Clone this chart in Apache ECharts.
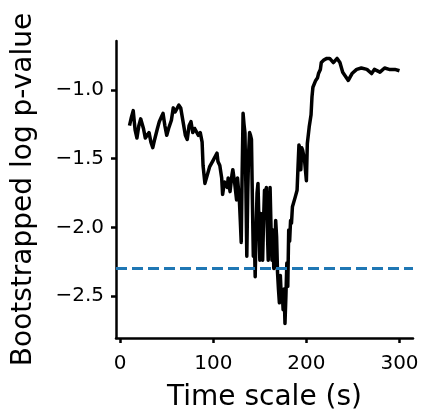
<!DOCTYPE html>
<html>
<head>
<meta charset="utf-8">
<script src="https://cdn.jsdelivr.net/npm/echarts@6/dist/echarts.min.js"></script>
<style>
  html, body { margin: 0; padding: 0; background: #fff; }
  #chart { width: 421px; height: 412px; }
</style>
</head>
<body>
<div id="chart"></div>
<script>
  // time scale (s) and bootstrapped log p-value
  const timeScale = [
    10, 12, 14, 16, 18, 20, 22, 25, 27, 29, 31, 33, 35, 37, 40, 42, 44, 46, 48, 50,
    52, 55, 57, 59, 61, 63, 65, 67, 70, 72, 74, 76, 78, 80, 84, 86, 88, 89, 91, 93,
    96, 100, 104, 105, 107, 109, 110, 112, 115, 116, 118, 120, 121, 123, 125, 126, 128, 129, 130, 131,
    132, 133, 134, 135, 136, 137, 138, 139, 140, 141, 142, 143, 144, 145, 146, 147, 148, 149, 150, 151,
    152, 153, 154, 155, 156, 157, 158, 159, 160, 161, 162, 163, 164, 165, 166, 167, 168, 169, 170, 171,
    172, 173, 174, 175, 176, 177, 178, 179, 180, 181, 182, 183, 184, 185, 188, 190, 191, 192, 193, 194,
    195, 196, 198, 200, 201, 203, 205, 206, 207, 210, 212, 213, 215, 216, 219, 222, 225, 227, 229, 233,
    236, 239, 243, 245, 249, 254, 259, 265, 270, 273, 279, 284, 289, 295, 300
  ];
  const logP = [
    -1.26, -1.20, -1.15, -1.29, -1.35, -1.26, -1.21, -1.28, -1.35, -1.36, -1.31, -1.38, -1.42, -1.36, -1.28, -1.23, -1.20, -1.17, -1.26, -1.33,
    -1.28, -1.22, -1.13, -1.16, -1.15, -1.11, -1.13, -1.12, -1.33, -1.36, -1.26, -1.23, -1.31, -1.28, -1.33, -1.31, -1.38, -1.55, -1.68, -1.68,
    -1.56, -1.51, -1.46, -1.52, -1.55, -1.64, -1.76, -1.67, -1.71, -1.64, -1.74, -1.62, -1.58, -1.68, -1.80, -1.64, -1.80, -1.95, -2.11, -1.60,
    -1.17, -1.25, -1.31, -1.70, -2.21, -1.75, -1.45, -1.31, -1.33, -1.36, -1.80, -2.21, -2.05, -2.36, -2.00, -1.75, -1.68, -1.95, -2.24, -1.90,
    -2.04, -2.24, -1.95, -1.73, -1.90, -1.71, -2.00, -2.24, -1.95, -1.71, -2.00, -2.24, -2.02, -2.30, -2.21, -1.95, -2.07, -2.33, -2.45, -2.55,
    -2.35, -2.50, -2.46, -2.60, -2.45, -2.70, -2.50, -2.26, -2.43, -2.02, -2.10, -1.95, -1.97, -1.85, -1.78, -1.73, -1.56, -1.40, -1.42, -1.58,
    -1.42, -1.44, -1.51, -1.66, -1.39, -1.27, -1.18, -1.05, -0.98, -0.93, -0.91, -0.88, -0.85, -0.80, -0.78, -0.77, -0.77, -0.76, -0.80, -0.77,
    -0.80, -0.87, -0.91, -0.93, -0.88, -0.85, -0.84, -0.85, -0.88, -0.85, -0.87, -0.84, -0.85, -0.85, -0.86
  ];
  const threshold = -2.301;
  const xTicks = [0, 100, 200, 300];
  const yTicks = [-2.5, -2.0, -1.5, -1.0];

  const font = "DejaVu Sans";
  const minus = (s) => String(s).replace("-", "\u2212");

  var seriesData = [];
  for (var i = 0; i < timeScale.length; i++) {
    seriesData.push([timeScale[i], logP[i]]);
  }

  const option = {
    animation: false,
    backgroundColor: "#fff",
    grid: { left: 116, right: 8, top: 41, bottom: 74, outerBoundsMode: "none", containLabel: false },
    xAxis: {
      type: "value",
      min: -4.5,
      max: 314.5,
      name: "Time scale (s)",
      nameLocation: "middle",
      nameGap: 46,
      nameTextStyle: { fontFamily: font, fontSize: 28, color: "#000" },
      splitLine: { show: false },
      axisLine: { show: true, onZero: false, lineStyle: { color: "#000", width: 2.5 } },
      axisTick: { show: true, length: 5, lineStyle: { color: "#000", width: 2.5 }, customValues: xTicks },
      axisLabel: {
        customValues: xTicks,
        fontFamily: font, fontSize: 20, color: "#000", margin: 16,
        formatter: (v) => minus(v),
      },
    },
    yAxis: {
      type: "value",
      min: -2.806,
      max: -0.643,
      name: "Bootstrapped log p-value",
      nameLocation: "middle",
      nameGap: 78,
      nameTextStyle: { fontFamily: font, fontSize: 28, color: "#000" },
      splitLine: { show: false },
      axisLine: { show: true, onZero: false, lineStyle: { color: "#000", width: 2.5 } },
      axisTick: { show: true, length: 5, lineStyle: { color: "#000", width: 2.5 }, customValues: yTicks },
      axisLabel: {
        customValues: yTicks,
        fontFamily: font, fontSize: 20, color: "#000", margin: 12,
        formatter: (v) => minus(Number(v).toFixed(1)),
      },
    },
    series: [
      {
        type: "line",
        data: seriesData,
        showSymbol: false,
        lineStyle: { color: "#000", width: 3.5, join: "round" },
        markLine: {
          silent: true,
          symbol: "none",
          label: { show: false },
          lineStyle: { color: "#1f77b4", width: 3, type: [11, 5] },
          data: [{ yAxis: threshold }],
        },
      },
    ],
  };

  var myChart = echarts.init(document.getElementById("chart"));
  myChart.setOption(option);
</script>
</body>
</html>
